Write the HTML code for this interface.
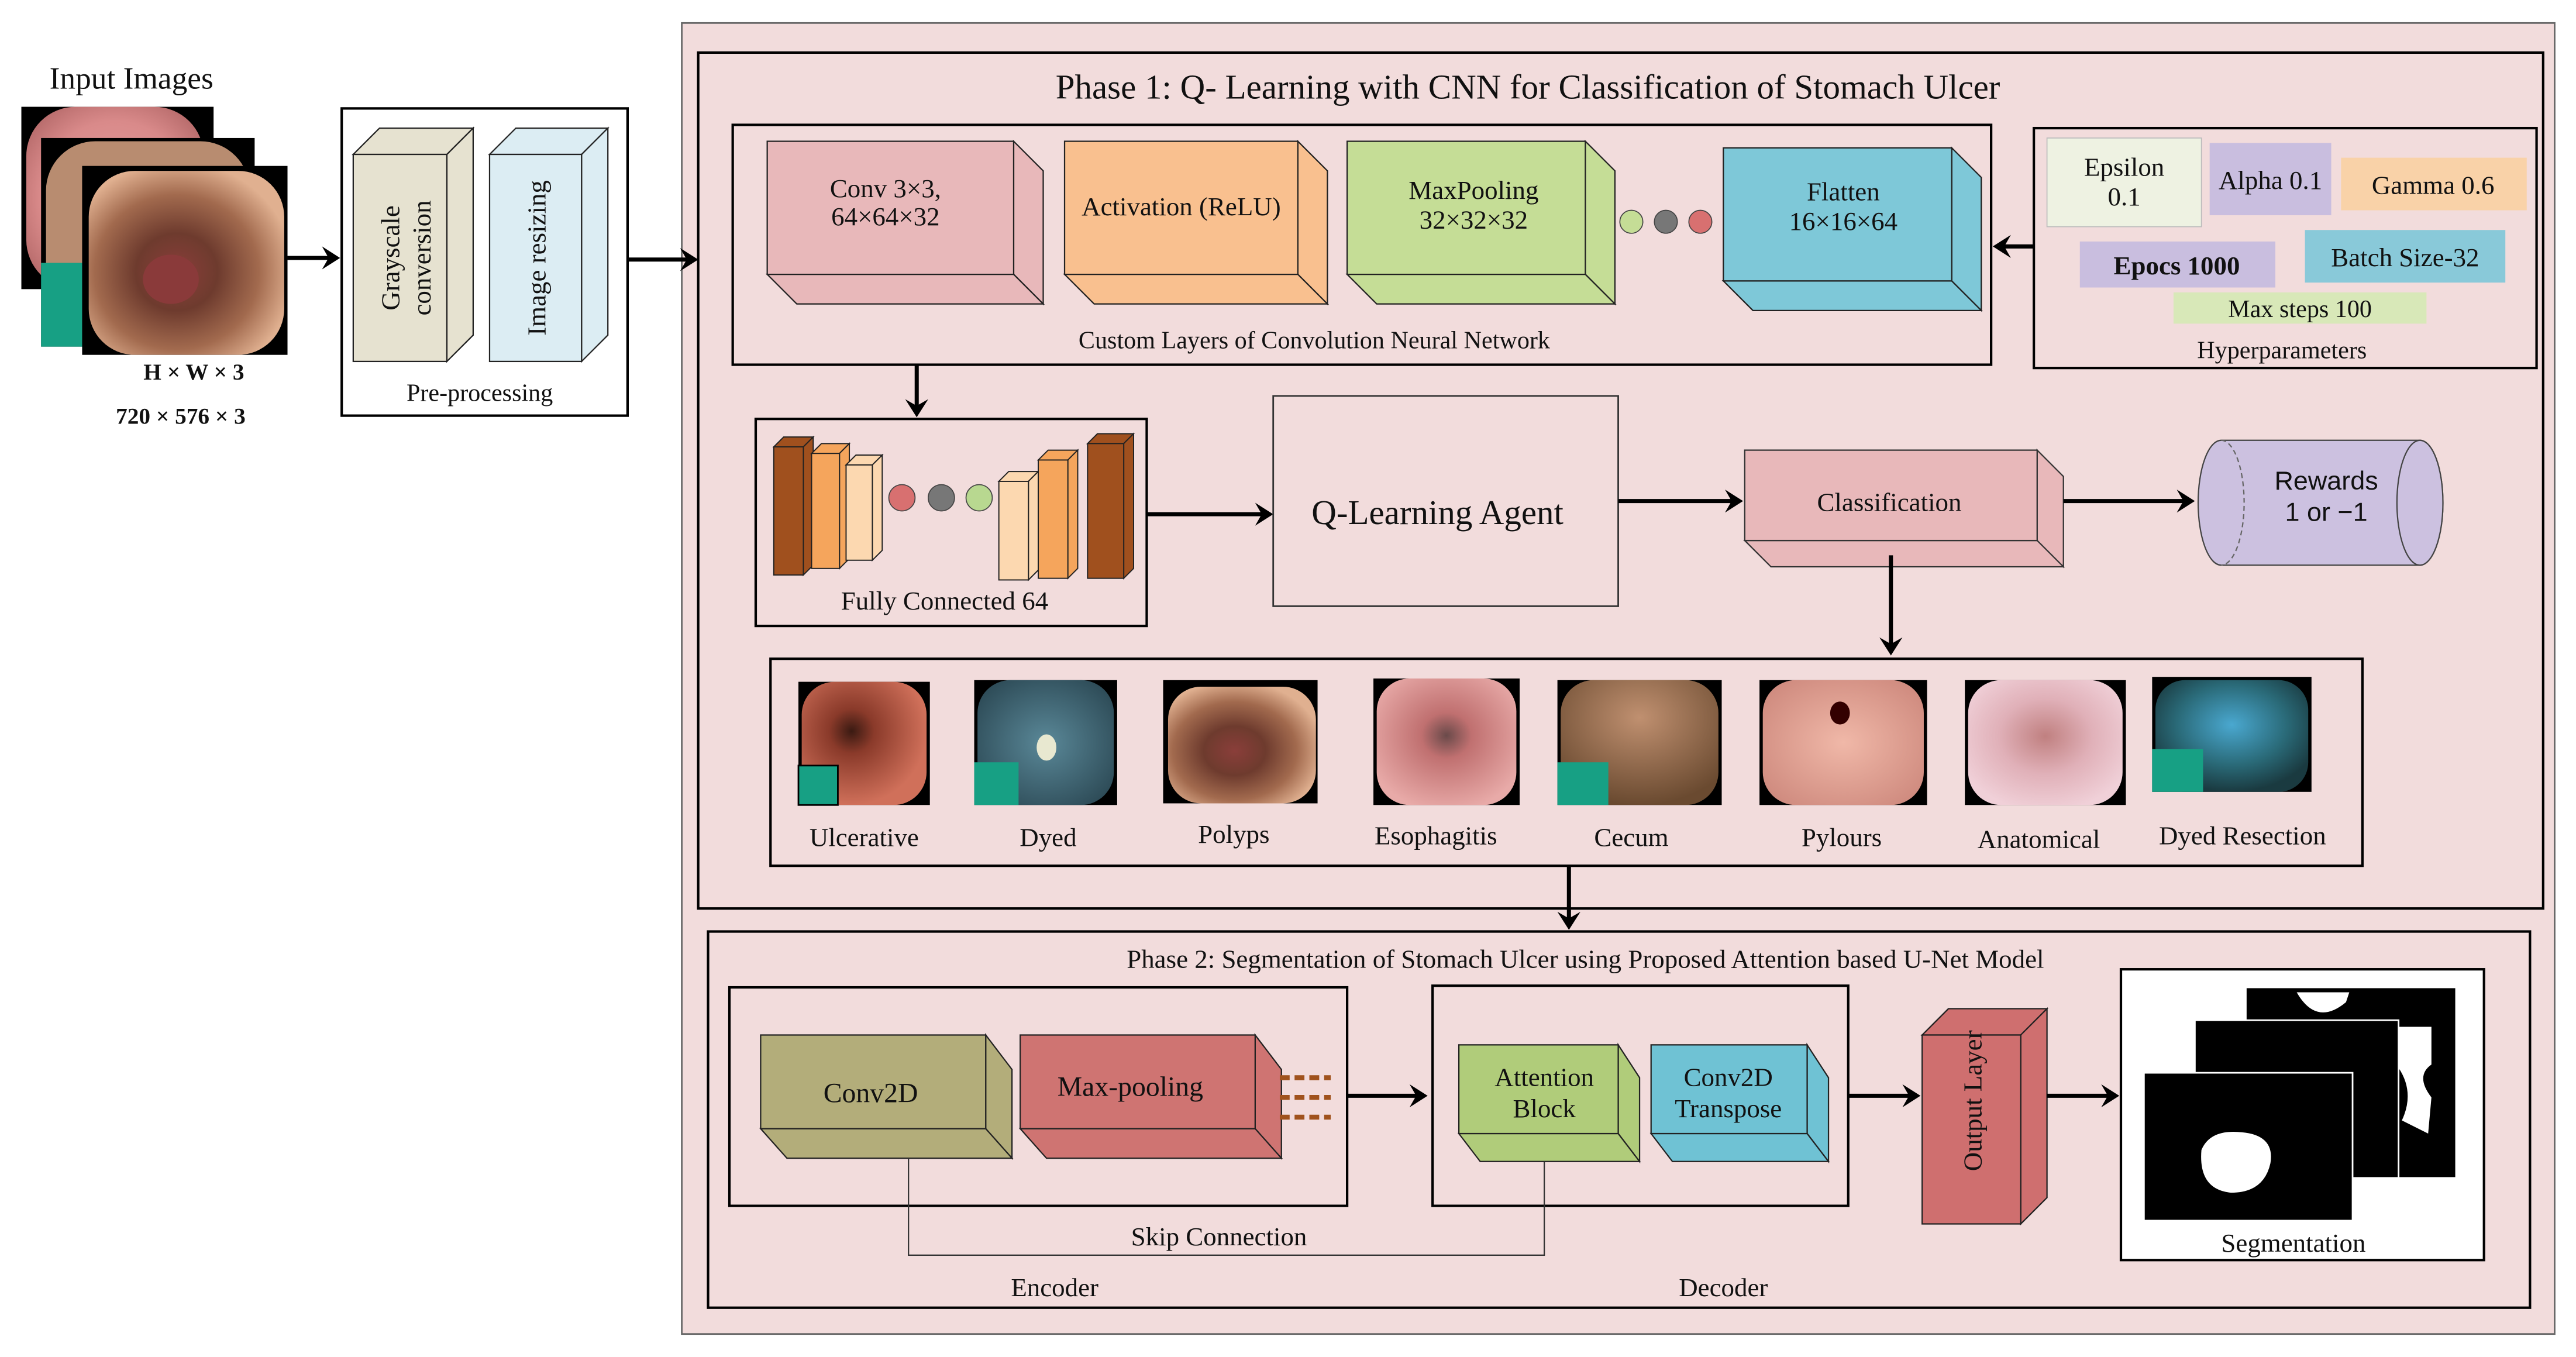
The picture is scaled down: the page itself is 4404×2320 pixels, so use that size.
<!DOCTYPE html>
<html><head><meta charset="utf-8">
<style>
html,body{margin:0;padding:0;background:#fff;}
svg{display:block;}
text{font-family:"Liberation Serif",serif;fill:#111;}
</style></head>
<body>
<svg width="4404" height="2320" viewBox="0 0 1568 826" preserveAspectRatio="none" xmlns="http://www.w3.org/2000/svg">
<defs>
<radialGradient id="gPink" cx="50%" cy="50%" r="60%"><stop offset="0" stop-color="#e4a0a0"/><stop offset="0.7" stop-color="#d98a8a"/><stop offset="1" stop-color="#b86c6c"/></radialGradient>
<radialGradient id="gPolyp" cx="45%" cy="55%" r="60%"><stop offset="0" stop-color="#8a3e3a"/><stop offset="0.35" stop-color="#6e3b2e"/><stop offset="0.7" stop-color="#a26a4e"/><stop offset="1" stop-color="#e0b090"/></radialGradient>
<radialGradient id="gUlc" cx="40%" cy="40%" r="60%"><stop offset="0" stop-color="#3a1a12"/><stop offset="0.3" stop-color="#8a3a2a"/><stop offset="1" stop-color="#d0705a"/></radialGradient>
<radialGradient id="gDyed" cx="50%" cy="50%" r="60%"><stop offset="0" stop-color="#5a8898"/><stop offset="1" stop-color="#2e4c58"/></radialGradient>
<radialGradient id="gEso" cx="50%" cy="45%" r="60%"><stop offset="0" stop-color="#6a4a4a"/><stop offset="0.3" stop-color="#c07070"/><stop offset="1" stop-color="#e8aaa8"/></radialGradient>
<radialGradient id="gCec" cx="50%" cy="30%" r="70%"><stop offset="0" stop-color="#c09070"/><stop offset="1" stop-color="#6a4a30"/></radialGradient>
<radialGradient id="gPyl" cx="50%" cy="50%" r="60%"><stop offset="0" stop-color="#f0b8a8"/><stop offset="1" stop-color="#d08c80"/></radialGradient>
<radialGradient id="gAna" cx="50%" cy="45%" r="60%"><stop offset="0" stop-color="#c08080"/><stop offset="0.5" stop-color="#e0b0b8"/><stop offset="1" stop-color="#f0d0d8"/></radialGradient>
<radialGradient id="gDR" cx="50%" cy="40%" r="60%"><stop offset="0" stop-color="#4aa8d0"/><stop offset="0.6" stop-color="#2a6a78"/><stop offset="1" stop-color="#1a3a40"/></radialGradient>
</defs>
<rect width="1568" height="826" fill="#fff"/>

<!-- Input images -->
<text x="80" y="54" font-size="19" text-anchor="middle">Input Images</text>
<rect x="13" y="65" width="117" height="111" fill="#000"/>
<rect x="16" y="65" width="108" height="111" rx="30" fill="url(#gPink)"/>
<rect x="25" y="84" width="130" height="127" fill="#000"/>
<rect x="28" y="86" width="124" height="124" rx="30" fill="#b88c70"/>
<rect x="25" y="160" width="30" height="51" fill="#17a084"/>
<rect x="50" y="101" width="125" height="115" fill="#000"/>
<rect x="54" y="104" width="119" height="112" rx="28" fill="url(#gPolyp)"/>
<ellipse cx="104" cy="170" rx="17" ry="15" fill="#8a3a3a"/>
<text x="118" y="231" font-size="14" font-weight="bold" text-anchor="middle">H   ×  W  × 3</text>
<text x="110" y="258" font-size="14" font-weight="bold" text-anchor="middle">720 × 576 × 3</text>
<line x1="175" y1="157" x2="203" y2="157" stroke="#000" stroke-width="2.5"/>
<polygon points="207,157 196,150 200,157 196,164"/>

<!-- Preprocessing -->
<rect x="208" y="66" width="174" height="187" fill="#fff" stroke="#000" stroke-width="1.5"/>
<g stroke="#222" stroke-width="0.8" fill="#e6e2d0">
<polygon points="215,94 231,78 288,78 272,94"/><polygon points="272,94 288,78 288,204 272,220"/><rect x="215" y="94" width="57" height="126"/>
</g>
<g stroke="#222" stroke-width="0.8" fill="#dcedf3">
<polygon points="298,94 314,78 370,78 354,94"/><polygon points="354,94 370,78 370,204 354,220"/><rect x="298" y="94" width="56" height="126"/>
</g>
<text transform="translate(243,157) rotate(-90)" font-size="16" text-anchor="middle">Grayscale</text>
<text transform="translate(262,157) rotate(-90)" font-size="16" text-anchor="middle">conversion</text>
<text transform="translate(332,157) rotate(-90)" font-size="16" text-anchor="middle">Image resizing</text>
<text x="292" y="244" font-size="15" text-anchor="middle">Pre-processing</text>

<!-- Outer box -->
<rect x="415" y="14" width="1140" height="798" fill="#f2dcdc" stroke="#666" stroke-width="1"/>
<rect x="425" y="32" width="1123" height="521" fill="#f2dcdc" stroke="#000" stroke-width="1.5"/>
<line x1="382" y1="158" x2="421" y2="158" stroke="#000" stroke-width="2.5"/>
<polygon points="425,158 414,151 418,158 414,165"/>
<text x="930" y="60" font-size="21" text-anchor="middle">Phase 1: Q- Learning with CNN for Classification of  Stomach Ulcer</text>

<!-- CNN box -->
<rect x="446" y="76" width="766" height="146" fill="#f2dcdc" stroke="#000" stroke-width="1.5"/>
<g stroke="#222" stroke-width="0.8" fill="#e8b8ba">
<polygon points="617,86 635,104 635,185 617,167"/><polygon points="467,167 617,167 635,185 485,185"/><rect x="467" y="86" width="150" height="81"/></g>
<g stroke="#222" stroke-width="0.8" fill="#f9c08f">
<polygon points="790,86 808,104 808,185 790,167"/><polygon points="648,167 790,167 808,185 666,185"/><rect x="648" y="86" width="142" height="81"/></g>
<g stroke="#222" stroke-width="0.8" fill="#c5dd96">
<polygon points="965,86 983,104 983,185 965,167"/><polygon points="820,167 965,167 983,185 838,185"/><rect x="820" y="86" width="145" height="81"/></g>
<g stroke="#222" stroke-width="0.8" fill="#7ec8d8">
<polygon points="1188,90 1206,108 1206,189 1188,171"/><polygon points="1049,171 1188,171 1206,189 1067,189"/><rect x="1049" y="90" width="139" height="81"/></g>
<text x="539" y="120" font-size="16" text-anchor="middle">Conv 3×3,</text>
<text x="539" y="137" font-size="16" text-anchor="middle">64×64×32</text>
<text x="719" y="131" font-size="16" text-anchor="middle">Activation (ReLU)</text>
<text x="897" y="121" font-size="16" text-anchor="middle">MaxPooling</text>
<text x="897" y="139" font-size="16" text-anchor="middle">32×32×32</text>
<text x="1122" y="122" font-size="16" text-anchor="middle">Flatten</text>
<text x="1122" y="140" font-size="16" text-anchor="middle">16×16×64</text>
<circle cx="993" cy="135" r="7" fill="#c5dd96" stroke="#444" stroke-width="0.6"/>
<circle cx="1014" cy="135" r="7" fill="#777" stroke="#444" stroke-width="0.6"/>
<circle cx="1035" cy="135" r="7" fill="#d87070" stroke="#444" stroke-width="0.6"/>
<text x="800" y="212" font-size="15" text-anchor="middle">Custom Layers of Convolution Neural Network</text>

<!-- Hyperparameters -->
<rect x="1238" y="78" width="306" height="146" fill="#f2dcdc" stroke="#000" stroke-width="1.5"/>
<rect x="1246" y="84" width="94" height="54" fill="#eef2e2" stroke="#bbb" stroke-width="0.6"/>
<text x="1293" y="107" font-size="16" text-anchor="middle">Epsilon</text>
<text x="1293" y="125" font-size="16" text-anchor="middle">0.1</text>
<rect x="1345" y="87" width="74" height="44" fill="#c9bedf"/>
<text x="1382" y="115" font-size="16" text-anchor="middle">Alpha 0.1</text>
<rect x="1425" y="96" width="113" height="32" fill="#f9d2a8"/>
<text x="1481" y="118" font-size="16" text-anchor="middle">Gamma 0.6</text>
<rect x="1266" y="147" width="119" height="28" fill="#c9bedf"/>
<text x="1325" y="167" font-size="16" font-weight="bold" text-anchor="middle">Epocs 1000</text>
<rect x="1403" y="140" width="122" height="32" fill="#89c9d9"/>
<text x="1464" y="162" font-size="16" text-anchor="middle">Batch Size-32</text>
<rect x="1323" y="178" width="154" height="19" fill="#d8e8b8"/>
<text x="1400" y="193" font-size="15" text-anchor="middle">Max steps 100</text>
<text x="1389" y="218" font-size="15" text-anchor="middle">Hyperparameters</text>
<line x1="1238" y1="150" x2="1217" y2="150" stroke="#000" stroke-width="2.5"/>
<polygon points="1213,150 1224,143 1220,150 1224,157"/>
<line x1="558" y1="222" x2="558" y2="250" stroke="#000" stroke-width="2.5"/>
<polygon points="558,254 551,243 558,247 565,243"/>

<!-- FC box -->
<rect x="460" y="255" width="238" height="126" fill="#f2dcdc" stroke="#000" stroke-width="1.5"/>
<g stroke="#222" stroke-width="0.7">
<g fill="#a0501e"><polygon points="471,272 477,266 495,266 489,272"/><polygon points="489,272 495,266 495,344 489,350"/><rect x="471" y="272" width="18" height="78"/></g>
<g fill="#f5a55c"><polygon points="494,276 500,270 517,270 511,276"/><polygon points="511,276 517,270 517,340 511,346"/><rect x="494" y="276" width="17" height="70"/></g>
<g fill="#fcd8b0"><polygon points="515,283 521,277 537,277 531,283"/><polygon points="531,283 537,277 537,335 531,341"/><rect x="515" y="283" width="16" height="58"/></g>
<g fill="#fcd8b0"><polygon points="608,293 614,287 632,287 626,293"/><polygon points="626,293 632,287 632,347 626,353"/><rect x="608" y="293" width="18" height="60"/></g>
<g fill="#f5a55c"><polygon points="632,280 638,274 656,274 650,280"/><polygon points="650,280 656,274 656,346 650,352"/><rect x="632" y="280" width="18" height="72"/></g>
<g fill="#a0501e"><polygon points="662,270 668,264 690,264 684,270"/><polygon points="684,270 690,264 690,346 684,352"/><rect x="662" y="270" width="22" height="82"/></g>
</g>
<circle cx="549" cy="303" r="8" fill="#d87070" stroke="#444" stroke-width="0.6"/>
<circle cx="573" cy="303" r="8" fill="#777" stroke="#444" stroke-width="0.6"/>
<circle cx="596" cy="303" r="8" fill="#b8d890" stroke="#444" stroke-width="0.6"/>
<text x="575" y="371" font-size="16" text-anchor="middle">Fully Connected 64</text>
<line x1="698" y1="313" x2="771" y2="313" stroke="#000" stroke-width="2.5"/>
<polygon points="775,313 764,306 768,313 764,320"/>

<!-- Q-learning -->
<rect x="775" y="241" width="210" height="128" fill="#f2dcdc" stroke="#333" stroke-width="1"/>
<text x="875" y="319" font-size="21" text-anchor="middle">Q-Learning Agent</text>
<line x1="985" y1="305" x2="1057" y2="305" stroke="#000" stroke-width="2.5"/>
<polygon points="1061,305 1050,298 1054,305 1050,312"/>

<!-- Classification -->
<g stroke="#333" stroke-width="0.8" fill="#e8b8ba">
<polygon points="1240,274 1256,290 1256,345 1240,329"/><polygon points="1062,329 1240,329 1256,345 1078,345"/><rect x="1062" y="274" width="178" height="55"/></g>
<text x="1150" y="311" font-size="16" text-anchor="middle">Classification</text>
<line x1="1256" y1="305" x2="1332" y2="305" stroke="#000" stroke-width="2.5"/>
<polygon points="1336,305 1325,298 1329,305 1325,312"/>

<!-- Rewards cylinder -->
<path d="M1352,268 L1473,268 A14,38 0 0 1 1473,344 L1352,344 A14,38 0 0 1 1352,268Z" fill="#ccc1e0" stroke="#444" stroke-width="0.8"/>
<path d="M1352,268 A14,38 0 0 1 1352,344" fill="none" stroke="#666" stroke-width="0.8" stroke-dasharray="3,2"/>
<ellipse cx="1473" cy="306" rx="14" ry="38" fill="#ccc1e0" stroke="#444" stroke-width="0.8"/>
<text x="1416" y="298" font-size="16" text-anchor="middle" style="font-family:'Liberation Sans',sans-serif">Rewards</text>
<text x="1416" y="317" font-size="16" text-anchor="middle" style="font-family:'Liberation Sans',sans-serif">1 or −1</text>
<line x1="1151" y1="338" x2="1151" y2="395" stroke="#000" stroke-width="2.5"/>
<polygon points="1151,399 1144,388 1151,392 1158,388"/>

<!-- classes -->
<rect x="469" y="401" width="969" height="126" fill="#f2dcdc" stroke="#000" stroke-width="1.5"/>
<rect x="486" y="415" width="80" height="75" fill="#000"/><rect x="488" y="415" width="76" height="75" rx="20" fill="url(#gUlc)"/><rect x="486" y="466" width="24" height="24" fill="#17a084" stroke="#000"/>
<rect x="593" y="414" width="87" height="76" fill="#000"/><rect x="595" y="414" width="83" height="76" rx="20" fill="url(#gDyed)"/><ellipse cx="637" cy="455" rx="6" ry="8" fill="#e8e8d0"/><rect x="593" y="464" width="27" height="26" fill="#17a084"/>
<rect x="708" y="414" width="94" height="75" fill="#000"/><rect x="711" y="418" width="90" height="71" rx="20" fill="url(#gPolyp)"/>
<rect x="836" y="413" width="89" height="77" fill="#000"/><rect x="838" y="413" width="85" height="77" rx="20" fill="url(#gEso)"/>
<rect x="948" y="414" width="100" height="76" fill="#000"/><rect x="950" y="414" width="96" height="76" rx="20" fill="url(#gCec)"/><rect x="948" y="464" width="31" height="26" fill="#17a084"/>
<rect x="1071" y="414" width="102" height="76" fill="#000"/><rect x="1073" y="414" width="98" height="76" rx="20" fill="url(#gPyl)"/><ellipse cx="1120" cy="434" rx="6" ry="7" fill="#300"/>
<rect x="1196" y="414" width="98" height="76" fill="#000"/><rect x="1198" y="414" width="94" height="76" rx="20" fill="url(#gAna)"/>
<rect x="1310" y="412" width="97" height="70" fill="#000"/><rect x="1312" y="414" width="93" height="68" rx="18" fill="url(#gDR)"/><rect x="1310" y="456" width="31" height="26" fill="#17a084"/>
<g font-size="16" text-anchor="middle">
<text x="526" y="515">Ulcerative</text><text x="638" y="515">Dyed</text><text x="751" y="513">Polyps</text><text x="874" y="514">Esophagitis</text>
<text x="993" y="515">Cecum</text><text x="1121" y="515">Pylours</text><text x="1241" y="516">Anatomical</text><text x="1365" y="514">Dyed Resection</text></g>
<line x1="955" y1="527" x2="955" y2="562" stroke="#000" stroke-width="2.5"/>
<polygon points="955,566 948,555 955,559 962,555"/>

<!-- Phase 2 -->
<rect x="431" y="567" width="1109" height="229" fill="#f2dcdc" stroke="#000" stroke-width="1.5"/>
<text x="965" y="589" font-size="16" text-anchor="middle">Phase 2: Segmentation of Stomach Ulcer using Proposed Attention based U-Net Model</text>
<rect x="444" y="601" width="376" height="133" fill="#f2dcdc" stroke="#000" stroke-width="1.5"/>
<g stroke="#222" stroke-width="0.8" fill="#b3ad7a">
<polygon points="600,630 616,651 616,705 600,687"/><polygon points="463,687 600,687 616,705 479,705"/><rect x="463" y="630" width="137" height="57"/></g>
<g stroke="#222" stroke-width="0.8" fill="#cf7472">
<polygon points="764,630 780,651 780,705 764,687"/><polygon points="621,687 764,687 780,705 637,705"/><rect x="621" y="630" width="143" height="57"/></g>
<text x="530" y="671" font-size="17" text-anchor="middle">Conv2D</text>
<text x="688" y="667" font-size="17" text-anchor="middle">Max-pooling</text>
<g stroke="#a0521d" stroke-width="3" stroke-dasharray="6,3">
<line x1="779" y1="656" x2="810" y2="656"/><line x1="779" y1="668" x2="810" y2="668"/><line x1="779" y1="680" x2="810" y2="680"/></g>
<line x1="820" y1="667" x2="865" y2="667" stroke="#000" stroke-width="2.5"/>
<polygon points="869,667 858,660 862,667 858,674"/>
<rect x="872" y="600" width="253" height="134" fill="#f2dcdc" stroke="#000" stroke-width="1.5"/>
<g stroke="#222" stroke-width="0.8" fill="#b0cc7a">
<polygon points="985,636 998,656 998,707 985,690"/><polygon points="888,690 985,690 998,707 901,707"/><rect x="888" y="636" width="97" height="54"/></g>
<g stroke="#222" stroke-width="0.8" fill="#6fc2d4">
<polygon points="1100,636 1113,656 1113,707 1100,690"/><polygon points="1005,690 1100,690 1113,707 1018,707"/><rect x="1005" y="636" width="95" height="54"/></g>
<text x="940" y="661" font-size="16" text-anchor="middle">Attention</text>
<text x="940" y="680" font-size="16" text-anchor="middle">Block</text>
<text x="1052" y="661" font-size="16" text-anchor="middle">Conv2D</text>
<text x="1052" y="680" font-size="16" text-anchor="middle">Transpose</text>
<polyline points="553,705 553,764 940,764 940,707" fill="none" stroke="#333" stroke-width="0.8"/>
<text x="742" y="758" font-size="16" text-anchor="middle">Skip Connection</text>
<text x="642" y="789" font-size="16" text-anchor="middle">Encoder</text>
<text x="1049" y="789" font-size="16" text-anchor="middle">Decoder</text>
<line x1="1125" y1="667" x2="1165" y2="667" stroke="#000" stroke-width="2.5"/>
<polygon points="1169,667 1158,660 1162,667 1158,674"/>
<g stroke="#222" stroke-width="0.8" fill="#cf6f6f">
<polygon points="1170,630 1186,614 1246,614 1230,630"/><polygon points="1230,630 1246,614 1246,729 1230,745"/><rect x="1170" y="630" width="60" height="115"/></g>
<text transform="translate(1206,670) rotate(-90)" font-size="16" text-anchor="middle">Output Layer</text>
<line x1="1246" y1="667" x2="1286" y2="667" stroke="#000" stroke-width="2.5"/>
<polygon points="1290,667 1279,660 1283,667 1279,674"/>
<rect x="1291" y="590" width="221" height="177" fill="#fff" stroke="#000" stroke-width="1.5"/>
<rect x="1367" y="601" width="128" height="116" fill="#000" stroke="#fff" stroke-width="1"/>
<path d="M1460,625 L1480,625 L1480,648 Q1470,655 1480,668 L1478,690 L1462,682 Q1470,665 1460,650Z" fill="#fff"/>
<path d="M1398,604 Q1410,625 1428,610 L1430,604Z" fill="#fff"/>
<rect x="1336" y="621" width="124" height="96" fill="#000" stroke="#fff" stroke-width="1"/>
<rect x="1305" y="653" width="127" height="90" fill="#000" stroke="#fff" stroke-width="1"/>
<path d="M1340,700 Q1345,688 1362,689 Q1385,690 1382,708 Q1378,726 1358,726 Q1338,724 1340,700Z" fill="#fff"/>
<text x="1396" y="762" font-size="16" text-anchor="middle">Segmentation</text>
</svg>
</body></html>
